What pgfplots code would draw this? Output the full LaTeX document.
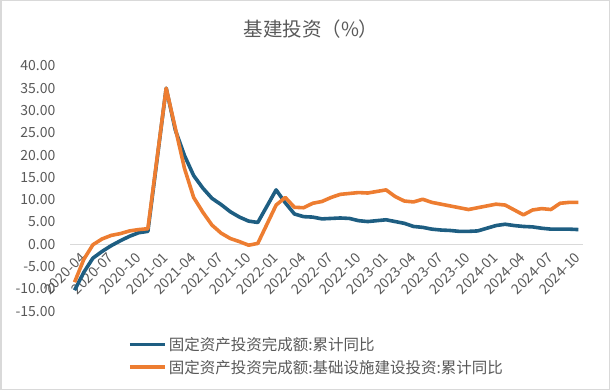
\documentclass[border=0pt]{standalone}
\usepackage{pgfplots}
\pgfplotsset{compat=1.18}
\usepackage{fontspec}
\setmainfont{Noto Sans CJK SC}
\definecolor{sblue}{RGB}{30,94,130}
\definecolor{sorange}{RGB}{237,125,49}
\definecolor{txtgray}{RGB}{89,89,89}
\definecolor{axgray}{RGB}{217,217,217}
\begin{document}
\begin{tikzpicture}[x=1bp,y=1bp]
\path[use as bounding box] (0,0) rectangle (610,390);
\draw[axgray, line width=1.5bp] (0.75,0.75) rectangle (609.25,389.25);
\node[txtgray, font=\fontsize{19.5bp}{21bp}\selectfont] at (311,361) {基建投资（\%）};
\begin{axis}[
  at={(70bp,78.8bp)}, anchor=south west,
  scale only axis, width=513bp, height=245.3bp,
  xmin=-0.5, xmax=55.5, ymin=-15, ymax=40,
  axis x line=middle, axis y line=left,
  x axis line style={draw=axgray, line width=1.2bp, -},
  y axis line style={draw=none, -},
  ytick={-15,-10,...,40},
  yticklabel={\pgfmathprintnumber[fixed,fixed zerofill,precision=2]{\tick}},
  ytick style={draw=none},
  yticklabel style={anchor=east, xshift=-9bp, font=\fontsize{14bp}{16bp}\selectfont, text=txtgray},
  xtick={0,3,...,54},
  xticklabels={2020-04,2020-07,2020-10,2021-01,2021-04,2021-07,2021-10,2022-01,2022-04,2022-07,2022-10,2023-01,2023-04,2023-07,2023-10,2024-01,2024-04,2024-07,2024-10},
  xtick style={draw=none},
  xticklabel style={rotate=45, anchor=north east, xshift=1bp, yshift=-6bp, inner sep=1bp, font=\fontsize{14bp}{16bp}\selectfont, text=txtgray},
  extra x ticks={-0.5,2.5,...,53.5},
  extra x tick labels={},
  extra x tick style={tick style={draw=axgray, line width=1.2bp}, major tick length=5bp, tick align=outside},
  /pgf/number format/assume math mode=true,
  clip=false,
  legend style={at={(axis description cs:0.113,-0.097)}, anchor=north west, draw=none, fill=none,
    font=\fontsize{15.5bp}{17bp}\selectfont, text=txtgray, row sep=4bp, inner sep=0pt,
    nodes={inner sep=2bp}},
  legend cell align=left,
  legend image code/.code={\draw[#1] (0bp,0bp) -- (35bp,0bp);},
]
\addplot[sblue, line width=3.6bp, line join=round] coordinates {
(0,-10.3)(1,-6.3)(2,-3.1)(3,-1.6)(4,-0.3)(5,0.8)(6,1.8)(7,2.6)(8,2.9)
(10,35.0)(11,25.6)(12,19.9)(13,15.4)(14,12.6)(15,10.3)(16,8.9)(17,7.3)(18,6.1)(19,5.2)(20,4.9)
(22,12.2)(23,9.3)(24,6.8)(25,6.2)(26,6.1)(27,5.7)(28,5.8)(29,5.9)(30,5.8)(31,5.3)(32,5.1)
(34,5.5)(35,5.1)(36,4.7)(37,4.0)(38,3.8)(39,3.4)(40,3.2)(41,3.1)(42,2.9)(43,2.9)(44,3.0)
(46,4.2)(47,4.5)(48,4.2)(49,4.0)(50,3.9)(51,3.6)(52,3.4)(53,3.4)(54,3.4)(55,3.3)
};
\addlegendentry{固定资产投资完成额:累计同比}
\addplot[sorange, line width=3.6bp, line join=round] coordinates {
(0,-8.5)(1,-3.4)(2,-0.1)(3,1.2)(4,2.0)(5,2.4)(6,3.0)(7,3.3)(8,3.5)
(10,35.0)(11,26.0)(12,17.0)(13,10.5)(14,7.2)(15,4.3)(16,2.5)(17,1.3)(18,0.6)(19,-0.2)(20,0.2)
(22,8.8)(23,10.5)(24,8.3)(25,8.2)(26,9.2)(27,9.6)(28,10.5)(29,11.2)(30,11.4)(31,11.6)(32,11.5)
(34,12.2)(35,10.7)(36,9.7)(37,9.5)(38,10.1)(39,9.4)(40,9.0)(41,8.6)(42,8.2)(43,7.8)(44,8.2)
(46,9.0)(47,8.8)(48,7.7)(49,6.6)(50,7.7)(51,8.0)(52,7.8)(53,9.2)(54,9.4)(55,9.4)
};
\addlegendentry{固定资产投资完成额:基础设施建设投资:累计同比}
\end{axis}
\end{tikzpicture}
\end{document}
